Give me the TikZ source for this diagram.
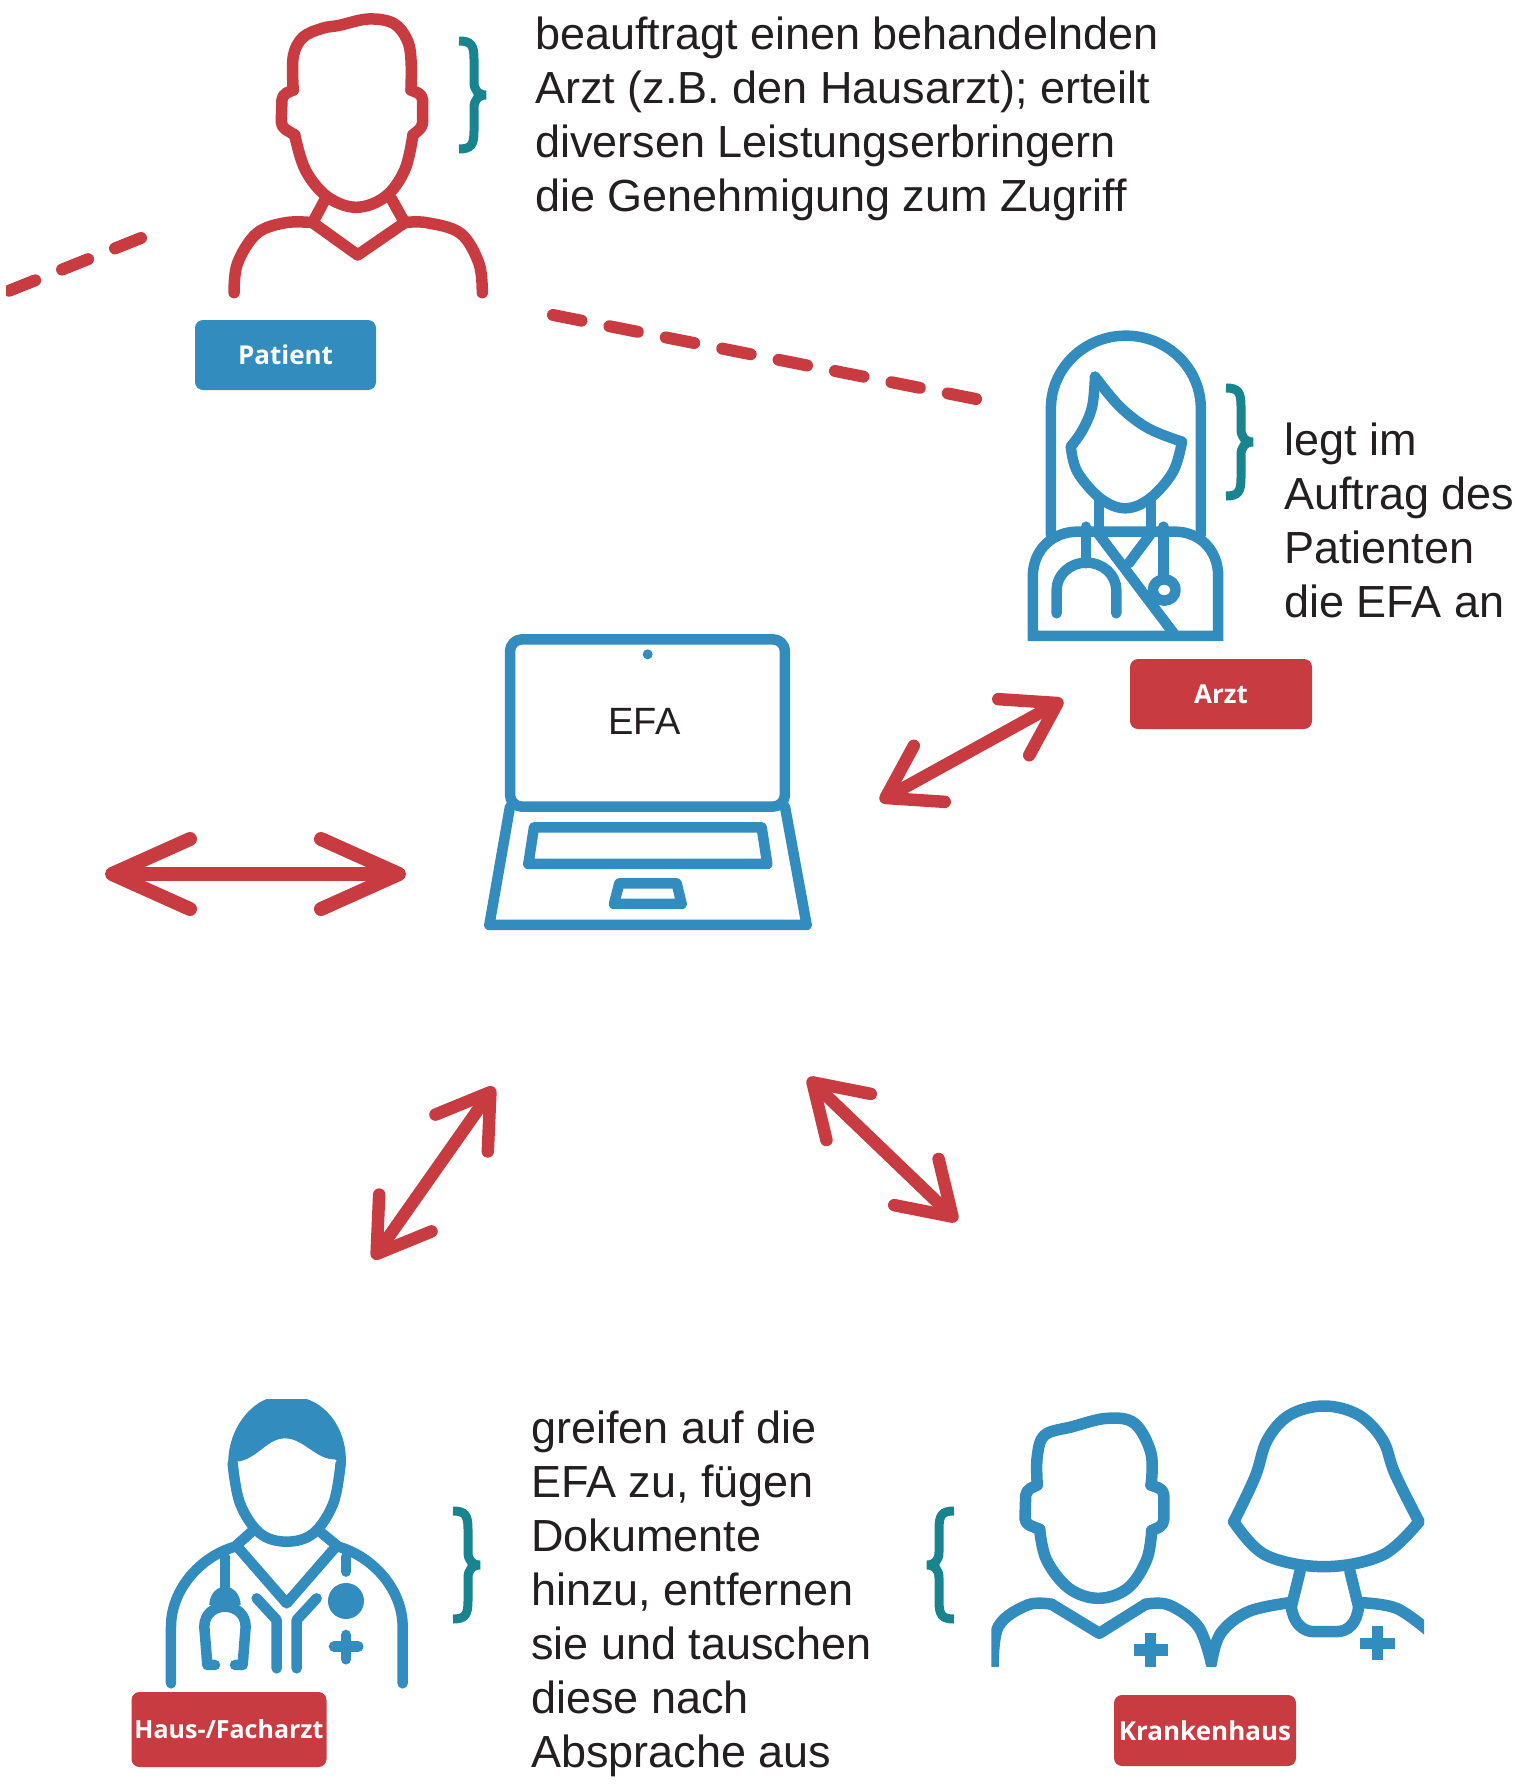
\documentclass[tikz,border=0pt]{standalone}
\usepackage{fontspec}
\setmainfont{Liberation Sans}
\newfontfamily\labelfont{Open Sans}[BoldFont={* Bold}]
\usetikzlibrary{arrows.meta,calc}
\definecolor{efared}{HTML}{C83C41}
\definecolor{efablue}{HTML}{338CBE}
\definecolor{efateal}{HTML}{17848F}
\definecolor{efatext}{HTML}{231F20}
\tikzset{
  redicon/.style={draw=efared,line width=11.5pt,line join=round,line cap=round},
  blueicon/.style={draw=efablue,line width=10.5pt,line join=round,line cap=round},
  tag/.style={rounded corners=8pt,minimum height=#1,inner sep=0pt,text=white,
    font=\labelfont\bfseries\fontsize{26}{30}\selectfont},
  bodytext/.style={anchor=north west,align=left,inner sep=0pt,text=efatext,
    font=\fontsize{45}{54}\selectfont},
  zoomA/.style={x=0.4847pt,y=-0.3333pt},
  zoomB/.style={x=0.3552pt,y=-0.3333pt},
  zoomC/.style={x=0.3333pt,y=-0.3333pt},
  zoomD/.style={x=0.3448pt,y=-0.3333pt},
  bigarrow/.style={draw=efared,line width=14pt,
    {Straight Barb[length=78pt,width=70pt,round]}-{Straight Barb[length=78pt,width=70pt,round]}},
  smallarrow/.style={draw=efared,line width=12.5pt,
    {Straight Barb[length=50pt,width=64pt,round]}-{Straight Barb[length=50pt,width=64pt,round]}},
  dashline/.style={draw=efared,line width=12pt,line cap=round},
  tbrace/.pic={
    \draw[efateal,line width=9pt]
      (0,4) .. controls (12,4) and (15,8) .. (15,22) -- (15,45)
      .. controls (15,53) and (19,58) .. (27,58)
      .. controls (19,58) and (15,63) .. (15,71) -- (15,94)
      .. controls (15,108) and (12,112) .. (0,112);
  }
}
\begin{document}
\begin{tikzpicture}[x=1pt,y=-1pt]
\useasboundingbox (0,0) rectangle (1517,1786);
% connector end points
\coordinate (dashLa) at (6,292);
\coordinate (dashLb) at (141,238);
\coordinate (dashRa) at (553,315);
\coordinate (dashRb) at (976,399);
\coordinate (arrLa) at (105,874);
\coordinate (arrLb) at (406,874);
\coordinate (arrAa) at (880,801);
\coordinate (arrAb) at (1063,700);
\coordinate (arrHa) at (373,1259);
\coordinate (arrHb) at (494,1087);
\coordinate (arrKa) at (808,1078);
\coordinate (arrKb) at (957,1221);
% dashes
\begin{scope}
\clip (6,200) rectangle (200,320);
\draw[dashline,dash pattern=on 28pt off 29pt] (dashLb) -- (dashLa);
\end{scope}
\draw[dashline,dash pattern=on 29pt off 28.5pt] (dashRa) -- (dashRb);
% arrows
\draw[bigarrow] (arrLa) -- (arrLb);
\draw[smallarrow] (arrAa) -- (arrAb);
\draw[smallarrow] (arrHa) -- (arrHb);
\draw[smallarrow] (arrKa) -- (arrKb);
% patient icon
\begin{scope}[zoomA]
\draw[redicon] plot[smooth,tension=.6] coordinates {(605,270)(605,170)(625,112)(665,85)(700,76)(760,57)(812,70)(840,120)(848,180)(848,270)};
\draw[redicon,rounded corners=5pt] (605,270) -- (582,285) -- (580,380) -- (608,405);
\draw[redicon,rounded corners=5pt] (848,270) -- (872,285) -- (872,380) -- (852,405);
\draw[redicon] plot[smooth,tension=.6] coordinates {(608,405)(630,510)(675,590)(735,622)(795,590)(835,510)(852,405)};
\draw[redicon] (672,595) -- (645,668) -- (738,765) -- (835,668) -- (805,590);
\draw[redicon] plot[smooth,tension=.6] coordinates {(483,878)(490,790)(530,700)(590,668)(645,668)};
\draw[redicon] plot[smooth,tension=.6] coordinates {(835,668)(880,668)(950,700)(988,790)(995,878)};
\end{scope}
% female doctor
\begin{scope}[shift={(960,300)},zoomB]
\draw[blueicon] (256,705) -- (256,325) arc[start angle=180,end angle=360,x radius=211,y radius=218] -- (678,705);
\draw[blueicon] plot[smooth,tension=.6] coordinates {(380,230)(372,320)(345,390)(312,440)};
\draw[blueicon] plot[smooth,tension=.6] coordinates {(380,230)(450,320)(530,385)(625,425)};
\draw[blueicon] plot[smooth,tension=.6] coordinates {(312,440)(330,515)(395,595)(465,625)(535,595)(600,515)(625,425)};
\draw[blueicon] (392,600) -- (392,690);
\draw[blueicon] (538,600) -- (538,690);
\draw[blueicon,line cap=butt,line join=miter,fill=white] (205,1008) -- (205,830) .. controls (205,745) and (265,695) .. (330,695) -- (605,695) .. controls (670,695) and (727,745) .. (727,830) -- (727,1008) -- cycle;
\draw[blueicon] (385,695) -- (605,1005);
\draw[blueicon] (538,700) -- (475,790);
\draw[blueicon] (355,680) -- (355,790);
\draw[blueicon] (272,940) -- (272,870) arc[start angle=180,end angle=360,x radius=84,y radius=82] -- (440,940);
\draw[blueicon] (573,680) -- (573,830);
\draw[blueicon,fill=white] (575,870) ellipse[x radius=32,y radius=32];
\end{scope}
% laptop
\begin{scope}[shift={(460,610)},zoomC]
\draw[blueicon,rounded corners=12pt] (150,88) rectangle (975,590);
\fill[efablue] (563,133) circle[radius=5pt];
\draw[blueicon] (150,590) -- (88,945) -- (1040,945) -- (975,590);
\draw[blueicon] (222,652) -- (905,652) -- (922,762) -- (205,762) -- cycle;
\draw[blueicon] (478,820) -- (650,820) -- (665,882) -- (462,882) -- cycle;
\end{scope}
% male doctor
\begin{scope}[shift={(100,1370)},zoomC]
\fill[efablue] (385,290) .. controls (380,190) and (440,110) .. (500,87) -- (620,87) .. controls (690,110) and (745,190) .. (737,290) -- (705,268) .. controls (650,270) and (610,205) .. (555,205) .. controls (500,205) and (470,270) .. (410,275) -- cycle;
\draw[blueicon] plot[smooth,tension=.6] coordinates {(398,280)(420,400)(480,490)(560,515)(640,490)(700,400)(722,280)};
\draw[blueicon] (213,940) -- (213,770) .. controls (213,660) and (300,560) .. (405,530) -- (455,485);
\draw[blueicon] (660,485) -- (715,530) .. controls (820,560) and (908,660) .. (908,770) -- (908,940);
\draw[blueicon] (412,530) -- (560,700) -- (708,530);
\draw[blueicon] (375,560) -- (375,660);
\fill[efablue] (328,705) arc[start angle=180,end angle=360,x radius=47,y radius=55] -- cycle;
\draw[blueicon] (345,885) -- (322,885) -- (313,770) .. controls (313,730) and (345,710) .. (375,710) .. controls (405,710) and (437,730) .. (437,770) -- (428,885) -- (405,885);
\draw[blueicon] (470,685) -- (530,750) -- (530,895);
\draw[blueicon] (650,685) -- (590,750) -- (590,895);
\draw[blueicon] (738,560) -- (738,605);
\fill[efablue] (738,693) circle[radius=18pt];
\draw[blueicon] (738,795) -- (738,868);
\draw[blueicon] (702,830) -- (775,830);
\end{scope}
% couple
\begin{scope}[shift={(900,1370)},zoomD]
\clip (265,80) rectangle (1520,890);
\tikzset{blueicon/.append style={line width=11.5pt}}
\draw[blueicon] plot[smooth,tension=.6] coordinates {(398,345)(398,260)(420,195)(500,170)(600,145)(680,160)(728,250)(728,345)};
\draw[blueicon,rounded corners=5pt] (398,345) -- (365,362) -- (362,460) -- (405,478);
\draw[blueicon,rounded corners=5pt] (728,345) -- (765,360) -- (765,465) -- (730,482);
\draw[blueicon] plot[smooth,tension=.6] coordinates {(405,478)(425,570)(490,655)(575,685)(660,655)(715,570)(730,482)};
\draw[blueicon] plot[smooth,tension=.6] coordinates {(270,900)(285,770)(370,705)(440,703)};
\draw[blueicon] (440,703) -- (578,790) -- (712,703);
\draw[blueicon] plot[smooth,tension=.6] coordinates {(712,703)(780,705)(865,770)(903,880)};
\draw[blueicon] plot[smooth,tension=.6] coordinates {(903,880)(930,790)(1010,725)(1130,698)};
\draw[blueicon] plot[smooth,tension=.6] coordinates {(968,455)(1030,320)(1065,210)(1130,135)(1230,108)(1330,135)(1400,210)(1435,310)(1505,455)};
\draw[blueicon] plot[smooth,tension=.6] coordinates {(968,455)(1060,555)(1230,590)(1400,555)(1505,455)};
\draw[blueicon] (1160,605) -- (1135,710) .. controls (1140,760) and (1170,785) .. (1200,785) -- (1265,785) .. controls (1300,785) and (1325,760) .. (1330,710) -- (1305,605);
\draw[blueicon] plot[smooth,tension=.6] coordinates {(1340,698)(1440,715)(1530,780)};
\draw[blueicon,line cap=butt] (727,790) -- (727,890);
\draw[blueicon,line cap=butt] (678,840) -- (778,840);
\draw[blueicon,line cap=butt] (1385,768) -- (1385,870);
\draw[blueicon,line cap=butt] (1333,820) -- (1435,820);
\end{scope}
% braces
\pic at (459,37) {tbrace};
\pic at (1226,384) {tbrace};
\pic at (453,1507) {tbrace};
\pic[xscale=-1] at (954,1507) {tbrace};
% labels
\node[tag=70pt,fill=efablue,minimum width=181pt] (patientTag) at (285.5,355) {\raisebox{-1pt}{Patient}};
\node[tag=70pt,fill=efared,minimum width=182pt] (arztTag) at (1221,694) {\raisebox{-1pt}{Arzt}};
\node[tag=75pt,fill=efared,minimum width=195pt,font=\labelfont\bfseries\fontsize{25}{30}\selectfont] (hausTag) at (229,1729.5) {\raisebox{-2pt}{Haus-/Facharzt}};
\node[tag=71pt,fill=efared,minimum width=182pt] (krankTag) at (1205,1730.5) {\raisebox{-3pt}{Krankenhaus}};
% texts
\node[bodytext] (patientText) at (535,17) {beauftragt einen behandelnden\\Arzt (z.B. den Hausarzt); erteilt\\diversen Leistungserbringern\\die Genehmigung zum Zugriff};
\node[bodytext] (arztText) at (1284,423) {legt im\\Auftrag des\\Patienten\\die EFA an};
\node[bodytext] (sharedText) at (531,1411) {greifen auf die\\EFA zu, fügen\\Dokumente\\hinzu, entfernen\\sie und tauschen\\diese nach\\Absprache aus};
\node[anchor=base,inner sep=0pt,text=efatext,font=\fontsize{38}{40}\selectfont] (efaText) at (644.5,734) {EFA};
\end{tikzpicture}
\end{document}
